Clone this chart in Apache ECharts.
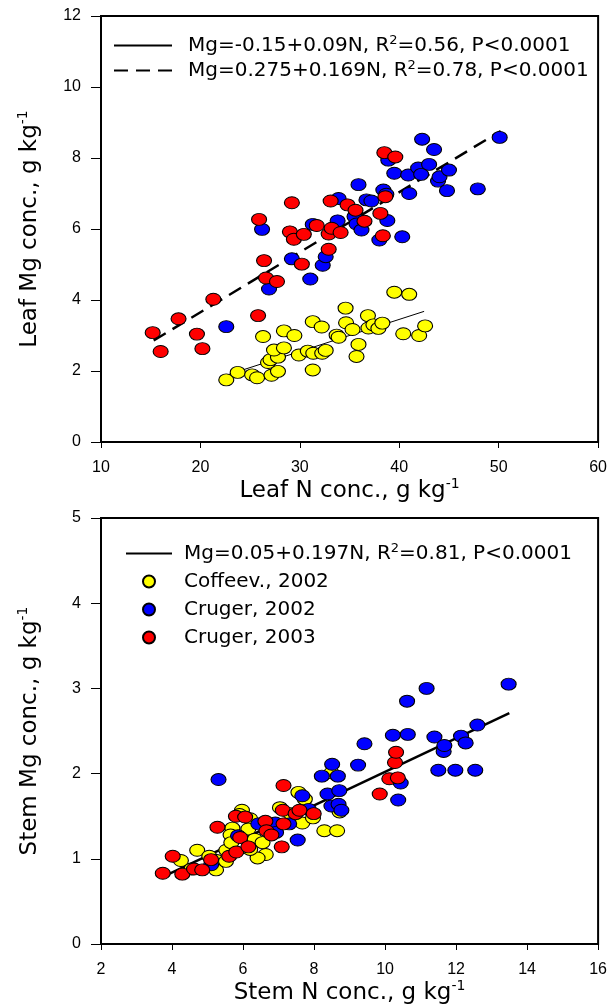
<!DOCTYPE html>
<html>
<head>
<meta charset="utf-8">
<script src="https://cdn.jsdelivr.net/npm/echarts@6/dist/echarts.min.js"></script>
<style>
  html, body { margin: 0; padding: 0; background: #fff; }
  #chart { width: 610px; height: 1006px; }
</style>
</head>
<body>
<div id="chart"></div>
<script>
// ---- leaf (top panel) ----
const leafCoffeeN = [22.6, 23.75, 25.2, 25.7, 27.15, 27.8, 26.8, 27.05, 27.8, 27.4, 28.4, 26.3, 28.4, 29.45, 29.9, 30.8, 31.35, 31.3, 31.3, 32.2, 32.25, 32.6, 33.7, 33.9, 34.6, 34.65, 35.3, 35.9, 35.7, 36.85, 36.9, 37.4, 37.9, 38.3, 39.5, 41.0, 40.4, 42.0, 42.6]
const leafCoffeeMg = [1.75, 1.96, 1.89, 1.81, 1.88, 1.99, 2.24, 2.32, 2.39, 2.59, 2.65, 2.97, 3.13, 3.0, 2.45, 2.56, 2.50, 2.03, 3.39, 3.24, 2.50, 2.58, 3.01, 2.95, 3.77, 3.36, 3.17, 2.75, 2.41, 3.56, 3.21, 3.30, 3.20, 3.35, 4.22, 4.16, 3.05, 3.0, 3.27]

const leafCr02N = [26.2, 22.6, 26.9, 29.2, 31.05, 31.3, 32.3, 32.6, 33.8, 33.9, 35.5, 35.7, 35.9, 36.2, 36.7, 37.2, 38.0, 38.4, 38.7, 38.8, 38.9, 39.5, 40.3, 40.9, 41.0, 41.9, 42.2, 42.3, 43.0, 43.5, 43.9, 44.05, 44.8, 45.0, 47.9, 50.1]
const leafCr02Mg = [5.99, 3.25, 4.31, 5.16, 4.59, 6.13, 4.98, 5.22, 6.23, 6.86, 6.35, 6.14, 7.25, 5.97, 6.82, 6.79, 5.69, 7.10, 6.98, 6.24, 7.94, 7.57, 5.78, 7.52, 7.0, 7.72, 7.54, 8.53, 7.82, 8.24, 7.35, 7.47, 7.08, 7.66, 7.13, 8.58]

const leafCr03N = [15.2, 16.0, 17.8, 19.65, 20.2, 21.3, 25.8, 25.9, 26.4, 26.6, 27.7, 29.0, 29.2, 29.4, 30.2, 30.4, 31.7, 32.9, 32.9, 33.1, 33.2, 34.1, 34.8, 35.6, 36.5, 38.1, 38.35, 38.5, 38.6, 39.6]
const leafCr03Mg = [3.08, 2.55, 3.47, 3.04, 2.63, 4.02, 3.56, 6.27, 5.11, 4.62, 4.52, 5.92, 6.74, 5.71, 5.01, 5.85, 6.10, 5.43, 5.86, 6.79, 6.02, 5.90, 6.68, 6.53, 6.22, 6.44, 5.81, 8.15, 6.91, 8.03]

// fitted lines, end points
const leafFitCoffeeN = [22.6, 42.5]
const leafFitCoffeeMg = [1.88, 3.68]
const leafFitCrugerN = [15.3, 50.2]
const leafFitCrugerMg = [2.86, 8.76]

// ---- stem (bottom panel) ----
const stemCoffeeN = [4.25, 4.55, 4.71, 5.05, 5.26, 5.24, 5.52, 5.53, 5.70, 5.65, 5.67, 5.97, 5.90, 6.20, 6.15, 6.33, 6.55, 6.64, 6.41, 6.20, 7.04, 7.34, 7.67, 7.97, 7.56, 7.74, 8.29, 8.65, 8.49, 8.72]
const stemCoffeeMg = [0.98, 0.88, 1.10, 1.03, 0.98, 0.87, 0.97, 1.10, 1.36, 1.28, 1.19, 1.57, 1.52, 1.47, 1.35, 1.23, 1.19, 1.05, 1.01, 1.11, 1.60, 1.53, 1.42, 1.48, 1.78, 1.70, 1.33, 1.33, 2.01, 1.55]

const stemCr02N = [5.31, 5.10, 5.86, 6.43, 6.91, 6.93, 7.30, 7.54, 7.67, 7.85, 8.22, 8.51, 8.67, 8.38, 8.71, 8.49, 8.69, 8.77, 9.24, 9.42, 10.22, 10.37, 10.44, 10.62, 10.64, 11.17, 11.39, 11.50, 11.65, 11.67, 11.98, 12.14, 12.27, 12.54, 12.60, 13.48]
const stemCr02Mg = [1.93, 0.93, 1.27, 1.41, 1.42, 1.31, 1.41, 1.22, 1.74, 1.58, 1.97, 2.11, 1.97, 1.76, 1.80, 1.62, 1.64, 1.57, 2.10, 2.35, 2.45, 1.69, 1.89, 2.85, 2.46, 3.00, 2.43, 2.04, 2.26, 2.33, 2.04, 2.44, 2.36, 2.04, 2.57, 3.05]

const stemCr03N = [3.74, 4.02, 4.29, 4.62, 4.85, 5.10, 5.28, 5.61, 5.81, 5.80, 6.06, 5.92, 6.15, 6.63, 6.66, 6.80, 7.14, 7.12, 7.14, 7.09, 7.48, 7.59, 7.99, 9.85, 10.12, 10.28, 10.31, 10.36]
const stemCr03Mg = [0.83, 1.03, 0.82, 0.88, 0.87, 0.99, 1.37, 1.03, 1.08, 1.50, 1.49, 1.25, 1.14, 1.44, 1.33, 1.28, 1.86, 1.57, 1.41, 1.14, 1.53, 1.57, 1.53, 1.76, 1.94, 2.13, 2.25, 1.95]

const stemFitN = [3.8, 13.5]
const stemFitMg = [0.80, 2.71]

const leafXTicks = [10, 60, 10]
const leafYTicks = [0, 12, 2]
const stemXTicks = [2, 16, 2]
const stemYTicks = [0, 5, 1]

const fitLeafCoffee = 'Mg=-0.15+0.09N, R2=0.56, P<0.0001'
const fitLeafCruger = 'Mg=0.275+0.169N, R2=0.78, P<0.0001'
const fitStem = 'Mg=0.05+0.197N, R2=0.81, P<0.0001'

function pairs(xs, ys) {
  return xs.map((x, i) => [x, ys[i]])
}

const labelFont = 'Liberation Sans, Arial, sans-serif'
const textFont = 'DejaVu Sans, Verdana, sans-serif'

function axis(gridIndex, ticks, title, isX) {
  return {
    type: 'value',
    gridIndex: gridIndex,
    min: ticks[0],
    max: ticks[1],
    interval: ticks[2],
    name: '{t|' + title + '}{s|-1}',
    nameLocation: 'middle',
    nameGap: isX ? 35 : 57,
    nameTextStyle: {
      rich: {
        t: {fontFamily: textFont, fontSize: 23, color: '#000', lineHeight: 28},
        s: {fontFamily: textFont, fontSize: 14, color: '#000', verticalAlign: 'top', lineHeight: 28}
      }
    },
    axisLine: {show: true, onZero: false, lineStyle: {color: '#000', width: 2}},
    axisTick: {show: true, length: isX ? 6 : 10, lineStyle: {color: '#000', width: 1}},
    axisLabel: {color: '#000', fontFamily: labelFont, fontSize: 16, margin: isX ? 18 : 20},
    splitLine: {show: false}
  }
}

function dots(name, xs, ys, color, gridIndex) {
  return {
    name: name,
    type: 'scatter',
    xAxisIndex: gridIndex,
    yAxisIndex: gridIndex,
    data: pairs(xs, ys),
    symbol: 'circle',
    symbolSize: [15, 12],
    itemStyle: {color: color, borderColor: '#000', borderWidth: 1, opacity: 1},
    z: 3
  }
}

function fitLine(name, xs, ys, width, type, gridIndex) {
  return {
    name: name,
    type: 'line',
    xAxisIndex: gridIndex,
    yAxisIndex: gridIndex,
    data: pairs(xs, ys),
    symbol: 'none',
    lineStyle: {color: '#000', width: width, type: type},
    itemStyle: {color: '#000'},
    z: 2
  }
}

// line entries in the legends: show only the line, no dot
function lineEntry(name) {
  return {name: name, itemStyle: {color: 'transparent', borderColor: 'transparent', borderWidth: 0, opacity: 0}}
}

const legendRich = {
  s: {fontFamily: textFont, fontSize: 13, color: '#000', verticalAlign: 'top', lineHeight: 23}
}

const chartDom = document.getElementById('chart')
const myChart = echarts.init(chartDom)
let option

option = {
  animation: false,
  backgroundColor: '#fff',
  grid: [
    {left: 101, top: 16, width: 508, height: 426, show: true, borderColor: '#000', borderWidth: 2},
    {left: 101, top: 518, width: 508, height: 426, show: true, borderColor: '#000', borderWidth: 2}
  ],
  xAxis: [
    axis(0, leafXTicks, 'Leaf N conc., g kg', true),
    axis(1, stemXTicks, 'Stem N conc., g kg', true)
  ],
  yAxis: [
    axis(0, leafYTicks, 'Leaf Mg conc., g kg', false),
    axis(1, stemYTicks, 'Stem Mg conc., g kg', false)
  ],
  legend: [
    {
      data: [lineEntry(fitLeafCoffee), lineEntry(fitLeafCruger)],
      orient: 'vertical',
      left: 113,
      top: 34,
      padding: 0,
      itemWidth: 58,
      itemHeight: 12,
      itemGap: 2,
      selectedMode: false,
      formatter: name => name.replace('R2=', 'R{s|2}='),
      textStyle: {fontFamily: textFont, fontSize: 20, color: '#000', lineHeight: 23, padding: [0, 0, 0, 11], rich: legendRich}
    },
    {
      data: [lineEntry(fitStem), 'Coffeev., 2002', 'Cruger, 2002', 'Cruger, 2003'],
      orient: 'vertical',
      left: 125,
      top: 542,
      padding: 0,
      itemWidth: 46,
      itemHeight: 12,
      itemGap: 5,
      selectedMode: false,
      formatter: name => name.replace('R2=', 'R{s|2}='),
      textStyle: {fontFamily: textFont, fontSize: 20, color: '#000', lineHeight: 23, padding: [0, 0, 0, 7], rich: legendRich}
    }
  ],
  series: [
    fitLine(fitLeafCoffee, leafFitCoffeeN, leafFitCoffeeMg, 1, 'solid', 0),
    fitLine(fitLeafCruger, leafFitCrugerN, leafFitCrugerMg, 2.5, [14, 8], 0),
    dots('Coffeev., 2002', leafCoffeeN, leafCoffeeMg, '#ffff00', 0),
    dots('Cruger, 2002', leafCr02N, leafCr02Mg, '#0000ff', 0),
    dots('Cruger, 2003', leafCr03N, leafCr03Mg, '#ff0000', 0),
    fitLine(fitStem, stemFitN, stemFitMg, 2.5, 'solid', 1),
    dots('Coffeev., 2002', stemCoffeeN, stemCoffeeMg, '#ffff00', 1),
    dots('Cruger, 2002', stemCr02N, stemCr02Mg, '#0000ff', 1),
    dots('Cruger, 2003', stemCr03N, stemCr03Mg, '#ff0000', 1)
  ]
}

option && myChart.setOption(option)
</script>
</body>
</html>
